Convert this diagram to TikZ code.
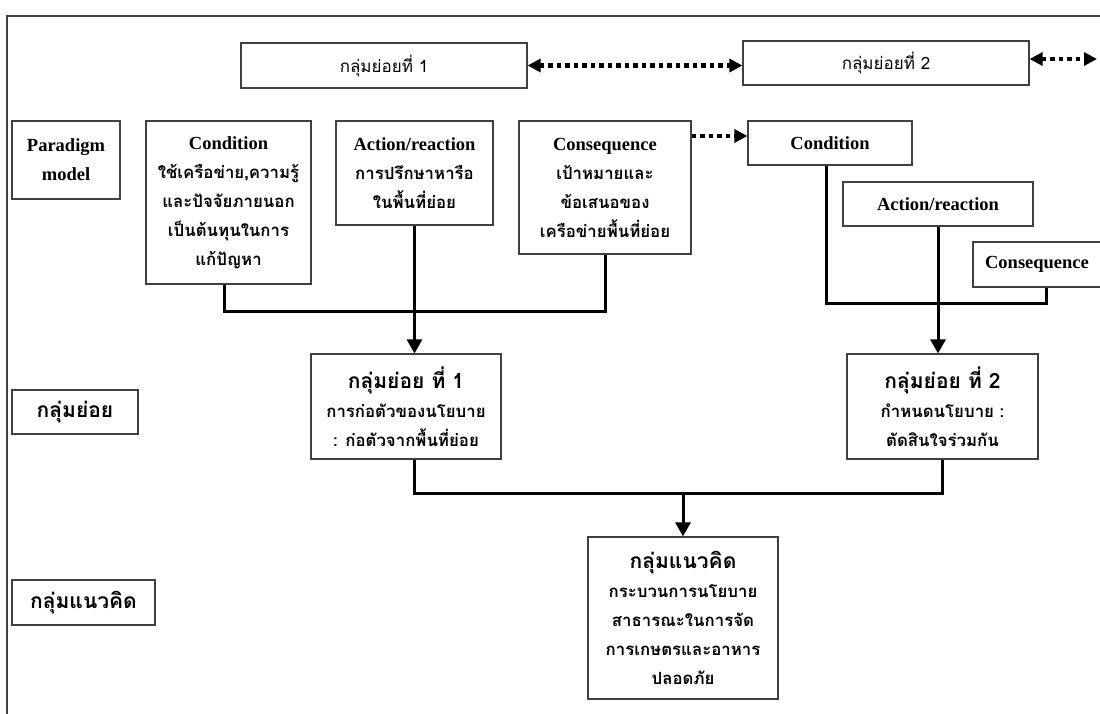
\documentclass[tikz,border=0pt]{standalone}
\usepackage{fontspec}
\usetikzlibrary{arrows.meta}
\setmainfont{Liberation Serif}
\newfontfamily\thaifont[Script=Thai]{Loma}
\newcommand{\hd}{\rmfamily\bfseries\fontsize{18.5}{29}\selectfont}
\newcommand{\tb}{\thaifont\bfseries\fontsize{16.8}{29}\selectfont}
\newcommand{\tbig}{\thaifont\bfseries\fontsize{21}{29}\selectfont}

\begin{document}
\begin{tikzpicture}[x=1pt,y=-1pt,
  box/.style={draw=black!75,line width=1.2pt,align=center,inner sep=0pt,font=\tb},
  link/.style={line width=3pt,-{Triangle[length=14pt,width=15pt]}},
  bar/.style={line width=3pt},
  dots/.style={line width=4.5pt,dash pattern=on 4.5pt off 4pt}]
  \useasboundingbox (0,0) rectangle (1100,713);

  %outer frame
  \draw[black!75,line width=1.5pt] (1102,16) -- (7,16) -- (7,715);

  %top row of sub groups
  \node[box,font=\thaifont\fontsize{17}{29}\selectfont,minimum width=286pt,minimum height=45pt] (top1) at (384,65.5) {กลุ่มย่อยที่ 1};
  \node[box,font=\thaifont\fontsize{17}{29}\selectfont,minimum width=286pt,minimum height=44pt] (top2) at (886,63) {กลุ่มย่อยที่ 2};
  \coordinate (edge) at (1097,59);

  %row labels
  \node[box,font=\hd,minimum width=108pt,minimum height=78pt] (paradigm) at (66,160) {Paradigm\\model};
  \node[box,font=\tbig,minimum width=126pt,minimum height=44pt] (sublabel) at (75,412) {กลุ่มย่อย};
  \node[box,font=\tbig,minimum width=143pt,minimum height=45pt] (conclabel) at (83.5,602.5) {กลุ่มแนวคิด};

  %paradigm model of sub group 1
  \node[box,minimum width=165pt,minimum height=163pt] (cond) at (228.5,202.5)
    {{\hd Condition}\\ใช้เครือข่าย,ความรู้\\และปัจจัยภายนอก\\เป็นต้นทุนในการ\\แก้ปัญหา};
  \node[box,minimum width=157pt,minimum height=104pt] (act) at (414.5,173)
    {{\hd Action/reaction}\\การปรึกษาหารือ\\ในพื้นที่ย่อย};
  \node[box,minimum width=172pt,minimum height=133pt] (cons) at (605,187.5)
    {{\hd Consequence}\\เป้าหมายและ\\ข้อเสนอของ\\เครือข่ายพื้นที่ย่อย};

  %paradigm model of sub group 2
  \node[box,font=\hd,minimum width=164pt,minimum height=44pt] (cond2) at (830,143) {Condition};
  \node[box,font=\hd,minimum width=190pt,minimum height=44pt] (act2) at (938,204) {Action/reaction};
  \node[box,font=\hd,minimum width=128pt,minimum height=45pt] (cons2) at (1037,264.5) {Consequence};

  %sub groups and concept
  \node[box,minimum width=190pt,minimum height=105pt] (grp1) at (406,406.5)
    {{\tbig กลุ่มย่อย ที่ 1}\\การก่อตัวของนโยบาย\\: ก่อตัวจากพื้นที่ย่อย};
  \node[box,minimum width=191pt,minimum height=105pt] (grp2) at (942.5,406.5)
    {{\tbig กลุ่มย่อย ที่ 2}\\กำหนดนโยบาย :\\ตัดสินใจร่วมกัน};
  \node[box,minimum width=190pt,minimum height=162pt] (concept) at (683,618)
    {{\tbig กลุ่มแนวคิด}\\กระบวนการนโยบาย\\สาธารณะในการจัด\\การเกษตรและอาหาร\\ปลอดภัย};

  %dotted arrows
  \draw[dots,{Triangle[length=13pt,width=13pt]}-{Triangle[length=13pt,width=13pt]}] (top1.east) -- (top1.east -| top2.west);
  \draw[dots,{Triangle[length=13pt,width=13pt]}-{Triangle[length=13pt,width=13pt]}] ([yshift=4pt]top2.east) -- (edge);
  \draw[dots,-{Triangle[length=13pt,width=13pt]}] ([yshift=7pt]cond2.west -| cons.east) -- ([yshift=7pt]cond2.west);

  %links of sub group 1
  \draw[bar] ([xshift=-4pt]cond.south) -- ([xshift=-4pt]cond.south |- 0,311) -| (cons.south);
  \draw[link] (act.south) -- (act.south |- grp1.north);

  %links of sub group 2
  \draw[bar] ([xshift=-4pt]cond2.south) -- ([xshift=-4pt]cond2.south |- 0,303) -| ([xshift=9pt]cons2.south);
  \draw[link] (act2.south) -- (act2.south |- grp2.north);

  %links to concept
  \draw[bar] (act.south |- grp1.south) -- (act.south |- 0,493) -| (grp2.south);
  \draw[link] (concept.north |- 0,493) -- (concept.north);
\end{tikzpicture}
\end{document}
